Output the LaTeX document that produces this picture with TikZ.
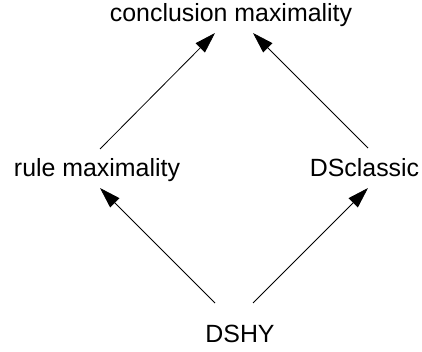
\documentclass[tikz,border=0pt]{standalone}
\usepackage{fontspec}
\setmainfont{Liberation Sans}
\usetikzlibrary{arrows.meta}
\begin{document}
\begin{tikzpicture}[x=1pt,y=1pt,
  lbl/.style={anchor=base,inner sep=0pt,font=\fontsize{24.9}{30}\selectfont},
  edge/.style={line width=0.8pt,-{Triangle[length=21pt,width=13pt]}}]
\useasboundingbox (0,0) rectangle (422,-352);
\node[lbl] (c) at (231,-22) {conclusion maximality};
\node[lbl] (r) at (97,-177) {rule maximality};
\node[lbl] (k) at (364.5,-177) {DSclassic};
\node[lbl] (d) at (240,-342) {DSHY};
\draw[edge] ([shift={(-25,39)}]d.base) -- ([shift={(3,-11)}]r.base);
\draw[edge] ([shift={(13,39)}]d.base) -- ([shift={(3.5,-11)}]k.base);
\draw[edge] ([shift={(3,28)}]r.base) -- ([shift={(-16,-11)}]c.base);
\draw[edge] ([shift={(3.5,29)}]k.base) -- ([shift={(22,-11)}]c.base);
\end{tikzpicture}
\end{document}
